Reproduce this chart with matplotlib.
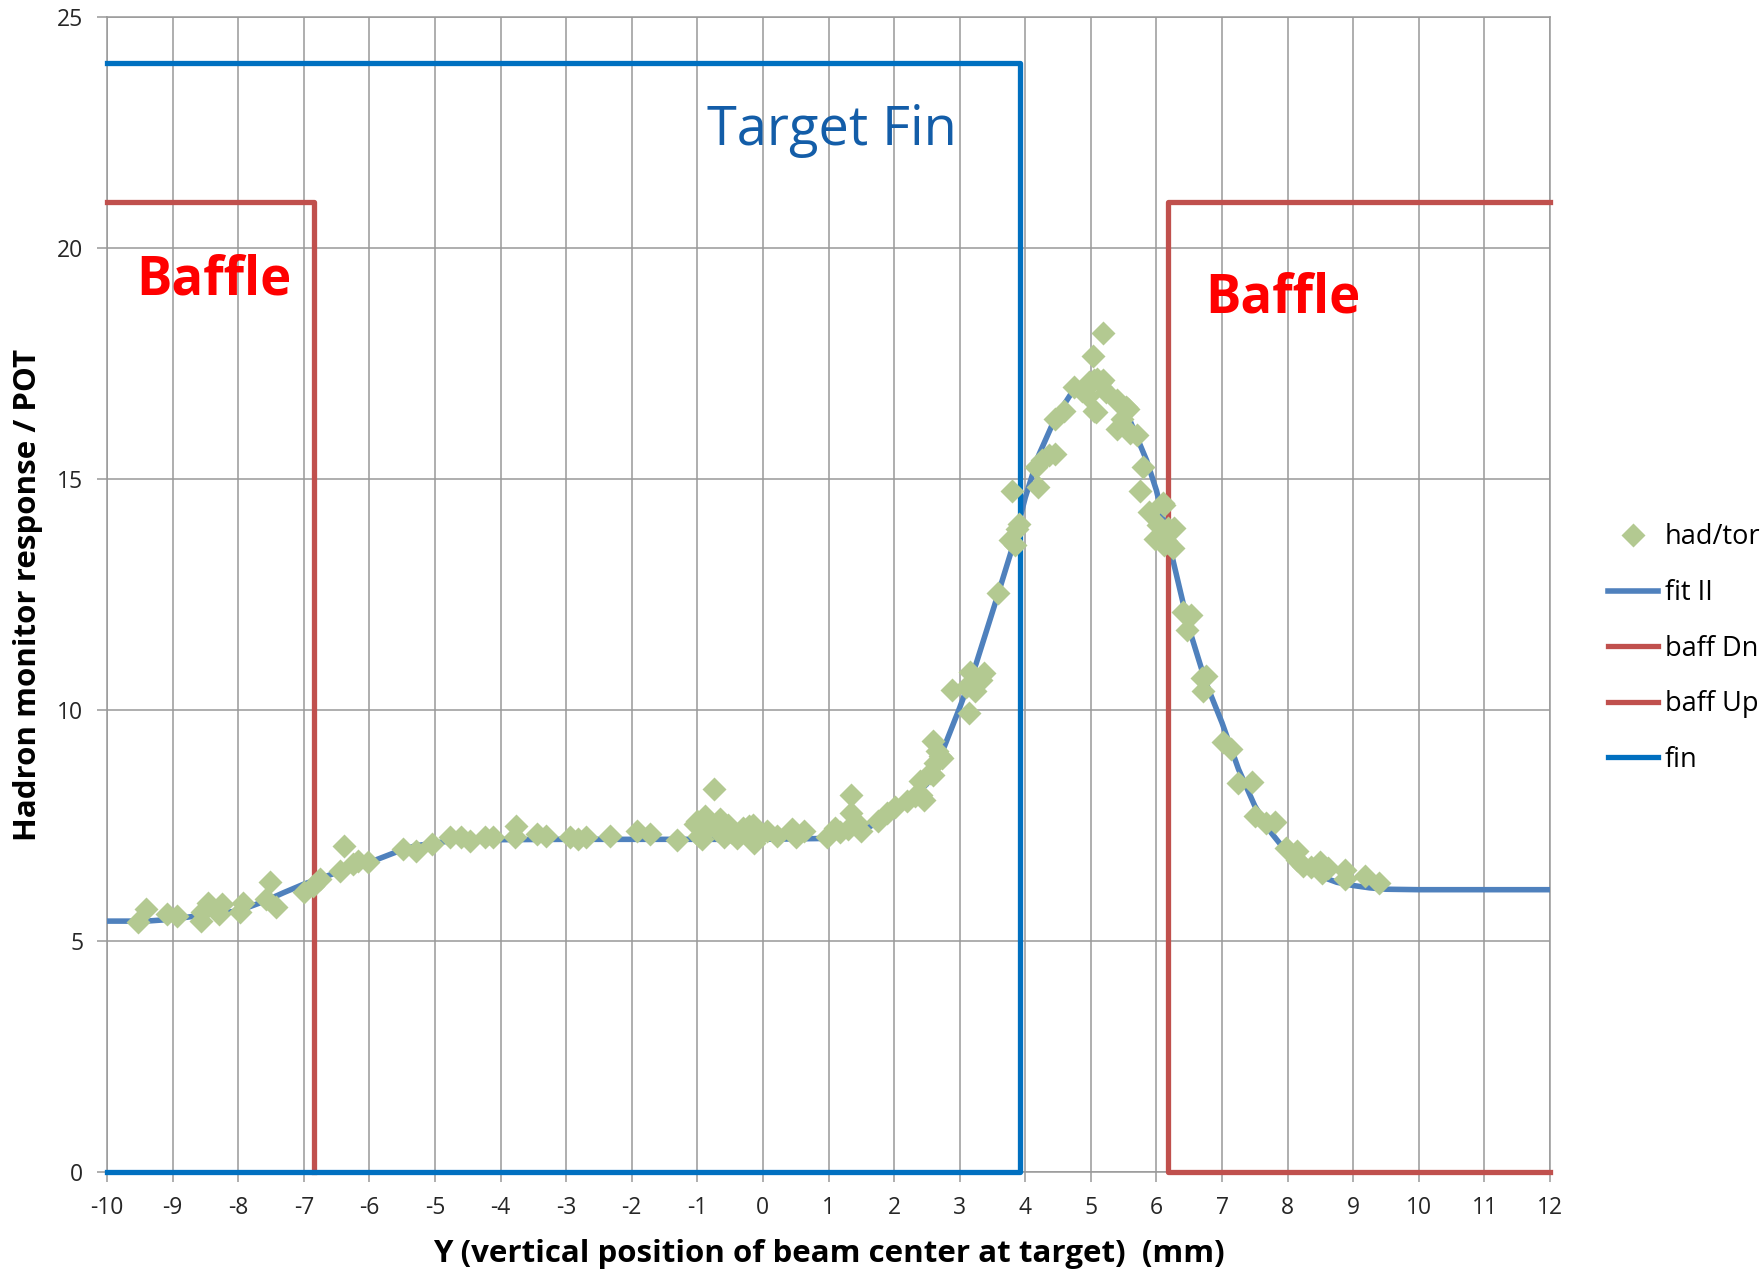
import matplotlib.pyplot as plt

# had/tor measurements
had_x = [-9.52, -9.40, -9.09, -8.94, -8.56, -8.55, -8.46, -8.29, -8.24, -7.98, -7.93, -7.52, -7.57, -7.42,
         -6.99, -6.76, -6.86, -6.45, -6.39, -6.25, -6.17, -6.02, -5.49, -5.29, -5.05, -4.77, -4.61, -4.46,
         -4.24, -4.11, -3.76, -3.78, -3.45, -3.30, -2.94, -2.82, -2.70, -2.33, -1.92, -1.72, -1.31,
         -1.03, -0.98, -0.88, -0.93, -0.74, -0.65, -0.60, -0.53, -0.48, -0.35, -0.22, -0.15, -0.13, -0.17,
         -0.85, -0.70, -0.40, -0.05, -0.30, -1.00,
         0.06, 0.21, 0.44, 0.50, 0.63, 0.98, 1.10, 1.18, 1.34, 1.35, 1.30, 1.44, 1.49, 1.76, 1.89, 2.02,
         2.19, 2.32, 2.45, 2.40, 2.55, 2.63, 2.66, 2.73, 2.60, 2.70, 2.60, 2.41,
         2.89, 3.16, 3.32, 3.37, 3.24, 3.14, 3.10, 3.59, 3.76, 3.85, 3.88, 3.91, 3.80,
         4.16, 4.26, 4.36, 4.46, 4.19, 4.46, 4.59,
         4.74, 4.87, 4.95, 5.03, 5.19, 5.08, 5.15, 5.23, 5.10, 4.97, 5.05, 5.18, 5.05,
         5.40, 5.56, 5.48, 5.43, 5.54, 5.40, 5.60, 5.70, 5.80, 5.75, 5.89, 6.12, 6.02, 6.17, 6.27,
         5.97, 6.12, 6.25, 6.15, 6.10, 6.40, 6.53, 6.46, 6.69, 6.71, 6.75, 7.02, 7.13, 7.25, 7.45,
         7.50, 7.67, 7.80, 7.97, 8.14, 8.14, 8.24, 8.35, 8.50, 8.52, 8.62, 8.87, 8.88, 9.18, 9.40]
had_y = [5.40, 5.69, 5.58, 5.55, 5.44, 5.62, 5.83, 5.58, 5.80, 5.62, 5.83, 6.27, 5.90, 5.74,
         6.05, 6.34, 6.19, 6.52, 7.06, 6.66, 6.73, 6.70, 6.99, 6.95, 7.09, 7.24, 7.25, 7.17,
         7.24, 7.24, 7.49, 7.24, 7.31, 7.28, 7.24, 7.20, 7.24, 7.27, 7.38, 7.31, 7.19,
         7.53, 7.27, 7.71, 7.20, 8.30, 7.64, 7.25, 7.52, 7.35, 7.31, 7.49, 7.52, 7.13, 7.27,
         7.45, 7.40, 7.22, 7.30, 7.45, 7.60,
         7.38, 7.27, 7.42, 7.24, 7.38, 7.24, 7.45, 7.35, 8.17, 7.78, 7.42, 7.56, 7.38, 7.60, 7.78, 7.89,
         8.03, 8.14, 8.06, 8.46, 8.64, 8.86, 9.11, 8.96, 9.32, 9.00, 8.60, 8.17,
         10.44, 10.83, 10.65, 10.80, 10.40, 9.94, 10.50, 12.54, 13.68, 13.56, 13.92, 14.02, 14.73,
         15.26, 15.40, 15.52, 15.55, 14.83, 16.30, 16.48,
         16.99, 16.91, 16.80, 17.66, 18.15, 16.45, 17.10, 16.88, 17.17, 17.10, 17.14, 17.14, 16.48,
         16.70, 16.52, 16.30, 16.64, 16.56, 16.09, 16.00, 15.95, 15.25, 14.75, 14.29, 14.44, 14.00, 13.93, 13.93,
         13.71, 13.57, 13.50, 13.65, 14.49, 12.13, 12.06, 11.74, 10.70, 10.42, 10.74, 9.30, 9.16, 8.42, 8.45,
         7.70, 7.55, 7.58, 7.02, 6.95, 6.76, 6.63, 6.61, 6.70, 6.47, 6.58, 6.54, 6.35, 6.40, 6.26]

# fit II curve
fit_x = [-10, -9.4, -9.0, -8.6, -8.0, -7.6, -7.3, -7.0, -6.5, -6.0, -5.6, -5.3, -4.8, -4.3, -3.0, -2.0,
         -1.0, 0.0, 1.0, 1.3, 1.6, 1.9, 2.2, 2.5, 2.75, 3.0, 3.25, 3.55, 3.8, 4.0, 4.2, 4.45, 4.7, 4.85,
         5.0, 5.15, 5.3, 5.45, 5.6, 5.85, 6.0, 6.25, 6.5, 6.75, 7.0, 7.25, 7.5, 7.75, 8.0, 8.25, 8.5,
         8.75, 9.0, 9.25, 9.5, 10, 11, 12]
fit_y = [5.43, 5.43, 5.47, 5.55, 5.65, 5.86, 6.05, 6.23, 6.48, 6.70, 6.92, 7.06, 7.16, 7.19, 7.2, 7.2,
         7.2, 7.2, 7.22, 7.3, 7.45, 7.7, 8.0, 8.4, 9.15, 10.05, 11.0, 12.35, 13.5, 14.6, 15.5, 16.3, 16.85, 17.05,
         17.15, 17.15, 16.95, 16.65, 16.25, 15.4, 14.75, 13.25, 11.75, 10.6, 9.72, 8.72, 7.92, 7.34, 6.9, 6.6, 6.4,
         6.27, 6.2, 6.15, 6.12, 6.11, 6.11, 6.11]

# baffle and fin outlines
baff_dn_x = [-10, -6.85, -6.85]
baff_dn_y = [21, 21, 0]
baff_up_x = [12, 6.17, 6.17, 12]
baff_up_y = [21, 21, 0, 0]
fin_x = [-10, 3.92, 3.92, -10]
fin_y = [24, 24, 0, 0]

plt.rcParams['font.family'] = ['Open Sans', 'DejaVu Sans']
plt.rcParams['axes.unicode_minus'] = False

fig = plt.figure(figsize=(17.63, 12.75), dpi=100)
ax = fig.add_axes([0.0607, 0.0808, 0.8185, 0.9059])

ax.plot(fit_x, fit_y, color="#4F81BD", lw=4.0, zorder=3, label="fit II")
ax.plot(baff_dn_x, baff_dn_y, color="#C0504D", lw=3.8, zorder=3, label="baff Dn", clip_on=False)
ax.plot(baff_up_x, baff_up_y, color="#C0504D", lw=3.8, zorder=3, label="baff Up", clip_on=False)
ax.plot(fin_x, fin_y, color="#0070C0", lw=3.8, zorder=3, label="fin", clip_on=False)
ax.plot(had_x, had_y, ls="none", marker="D", ms=12.5, color="#B3C991", mec="none",
        zorder=4, label="had/tor")

ax.set_xlim(-10, 12)
ax.set_ylim(0, 25)
ax.set_xticks(range(-10, 13))
ax.set_yticks(range(0, 26, 5))
ax.grid(True, color="#999999", lw=1.1)
ax.set_axisbelow(True)
for s in ax.spines.values():
    s.set_color("#999999")
    s.set_linewidth(1.1)
ax.tick_params(axis="both", color="#999999", length=7, width=1.1, labelsize=16.5,
               labelcolor="#262626", pad=10)

ax.set_xlabel("Y (vertical position of beam center at target)  (mm)", fontsize=22.5,
              fontweight="bold", labelpad=14)
ax.set_ylabel("Hadron monitor response / POT", fontsize=22.5, fontweight="bold", labelpad=10)

ax.text(1.05, 22.55, "Target Fin", color="#135DA8", fontsize=39, ha="center", va="center")
ax.text(-8.37, 19.3, "Baffle", color="#FF0000", fontsize=38, fontweight="bold",
        ha="center", va="center")
ax.text(7.92, 18.9, "Baffle", color="#FF0000", fontsize=38, fontweight="bold",
        ha="center", va="center")

h, l = ax.get_legend_handles_labels()
order = [4, 0, 1, 2, 3]
fig.legend([h[i] for i in order], [l[i] for i in order], loc="upper left",
           bbox_to_anchor=(0.8985, 0.6086), frameon=False, fontsize=19.5,
           handlelength=1.83, handletextpad=0.26, labelspacing=1.02)

fig.savefig("out.png", dpi=100)
